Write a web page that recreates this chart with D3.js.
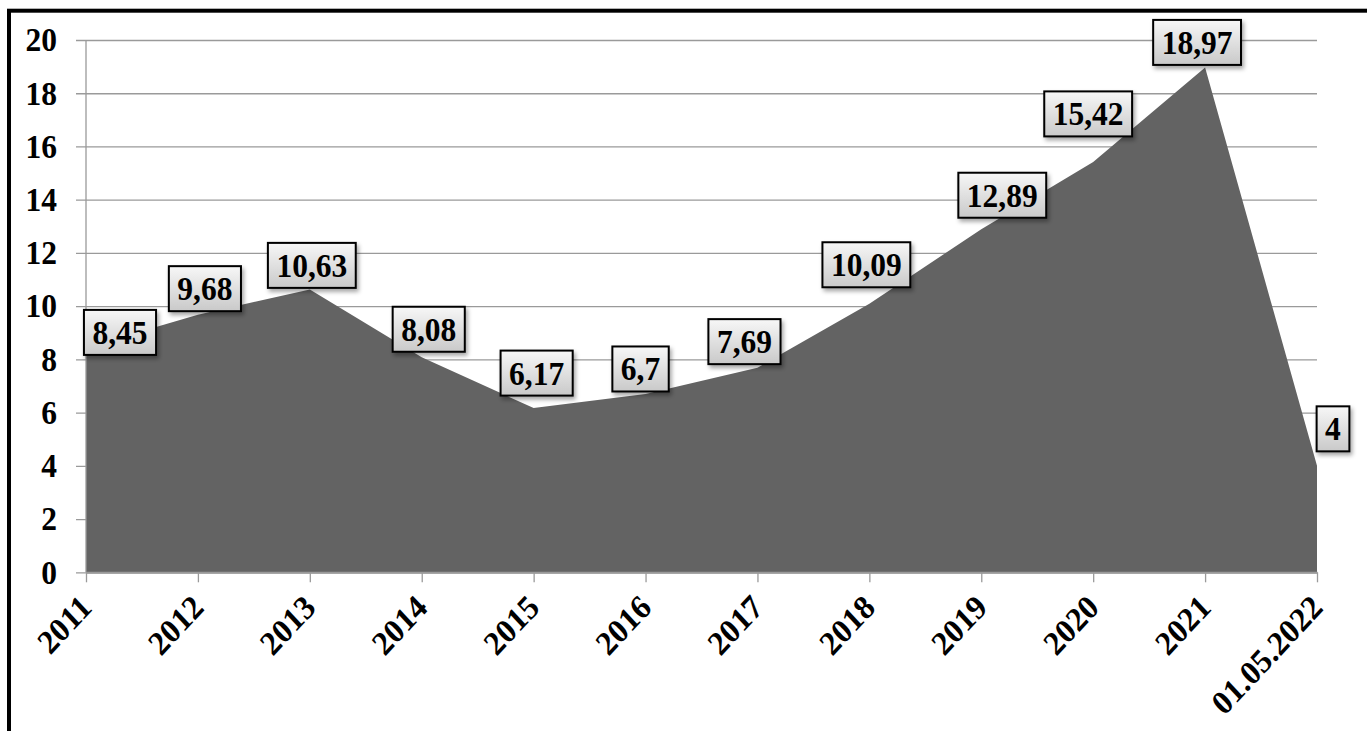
<!DOCTYPE html>
<html>
<head>
<meta charset="utf-8">
<script src="https://cdn.jsdelivr.net/npm/d3@7/dist/d3.min.js"></script>
<style>
  html, body { margin: 0; padding: 0; background: #fff; }
  svg { display: block; }
</style>
</head>
<body>
<svg width="1367" height="731"></svg>
<script>
// data
var categories = ["2011", "2012", "2013", "2014", "2015", "2016", "2017", "2018", "2019", "2020", "2021", "01.05.2022"];
var values = [8.45, 9.68, 10.63, 8.08, 6.17, 6.7, 7.69, 10.09, 12.89, 15.42, 18.97, 4];
var yTicks = [0, 2, 4, 6, 8, 10, 12, 14, 16, 18, 20];

// where each value box sits relative to its point (px)
var labelNudge = [[34, -15], [7, -26], [2, -24], [7, -28], [3, -35], [-5, -25],
                  [-13, -26], [-3, -39], [21, -34], [-5, -48], [-8, -25], [16, -37]];

var plotLeft = 86, plotRight = 1317, plotTop = 40, plotBottom = 572.3;
var font = "'Liberation Serif', 'Times New Roman', serif";
var fontSize = 31.5;
var stretch = "scale(1,1.07)"; // the original text is a bit taller than plain Times

var svg = d3.select("svg");

// page border
svg.append("rect")
    .attr("x", 9).attr("y", 10.7)
    .attr("width", 1500).attr("height", 900)
    .attr("fill", "none")
    .attr("stroke", "#000")
    .attr("stroke-width", 4);

var defs = svg.append("defs");
var grad = defs.append("linearGradient")
    .attr("id", "boxGrad")
    .attr("x1", 0).attr("y1", 0).attr("x2", 0).attr("y2", 1);
grad.append("stop").attr("offset", "0%").attr("stop-color", "#f7f7f7");
grad.append("stop").attr("offset", "100%").attr("stop-color", "#c9c9c9");

var shadow = defs.append("filter").attr("id", "shadow")
    .attr("x", "-20%").attr("y", "-20%").attr("width", "150%").attr("height", "160%");
shadow.append("feDropShadow")
    .attr("dx", 2).attr("dy", 3)
    .attr("stdDeviation", 2)
    .attr("flood-color", "#000")
    .attr("flood-opacity", 0.35);

// scales
var xscale = d3.scalePoint().domain(categories).range([plotLeft, plotRight]);
var yscale = d3.scaleLinear().domain([0, 20]).range([plotBottom, plotTop]);

// gridlines + y labels
var yAxis = svg.append("g")
    .attr("transform", "translate(" + (plotLeft - 10) + ",0)")
    .call(d3.axisLeft(yscale).tickValues(yTicks).tickSize(-(plotRight - plotLeft + 10)).tickPadding(19));
yAxis.select(".domain").remove();
yAxis.selectAll("line").attr("stroke", "#9a9a9a").attr("stroke-width", 1.3);
yAxis.selectAll("text")
    .attr("font-family", font)
    .attr("font-weight", "bold")
    .attr("font-size", fontSize)
    .attr("fill", "#000")
    .attr("transform", stretch);

// area
var area = d3.area()
    .x(function(d, i) { return xscale(categories[i]); })
    .y0(yscale(0))
    .y1(function(d) { return yscale(d); });

svg.append("path")
    .datum(values)
    .attr("d", area)
    .attr("fill", "#636363");

// vertical axis line
svg.append("line")
    .attr("x1", plotLeft).attr("x2", plotLeft)
    .attr("y1", plotTop).attr("y2", plotBottom)
    .attr("stroke", "#9a9a9a").attr("stroke-width", 1.3);

// x axis
var xAxis = svg.append("g")
    .attr("transform", "translate(0," + plotBottom + ")")
    .call(d3.axisBottom(xscale).tickSizeInner(10).tickSizeOuter(0).tickPadding(0));
xAxis.select(".domain").attr("stroke", "#9a9a9a").attr("stroke-width", 2);
xAxis.selectAll("line").attr("stroke", "#9a9a9a").attr("stroke-width", 1.3);
xAxis.selectAll("text")
    .attr("font-family", font)
    .attr("font-weight", "bold")
    .attr("font-size", fontSize)
    .attr("fill", "#000")
    .attr("text-anchor", "end")
    .attr("dy", 0)
    .attr("y", 0)
    .attr("transform", "translate(7,37) " + stretch + " rotate(-45)");

// value boxes
var labels = svg.append("g")
    .selectAll("g")
    .data(values)
    .enter().append("g")
    .attr("transform", function(d, i) {
        return "translate(" + (xscale(categories[i]) + labelNudge[i][0]) + "," + (yscale(d) + labelNudge[i][1]) + ")";
    });

labels.append("rect").attr("class", "box");
labels.append("text")
    .attr("font-family", font)
    .attr("font-weight", "bold")
    .attr("font-size", fontSize)
    .attr("text-anchor", "middle")
    .attr("dy", "0.34em")
    .attr("fill", "#000")
    .attr("transform", stretch)
    .text(function(d) { return String(d).replace(".", ","); });

labels.each(function() {
    var g = d3.select(this);
    var w = g.select("text").node().getComputedTextLength() + 17;
    var h = 45;
    g.select("rect")
        .attr("x", -w / 2).attr("y", -h / 2)
        .attr("width", w).attr("height", h)
        .attr("fill", "url(#boxGrad)")
        .attr("stroke", "#000")
        .attr("stroke-width", 2)
        .attr("filter", "url(#shadow)");
});
</script>
</body>
</html>
